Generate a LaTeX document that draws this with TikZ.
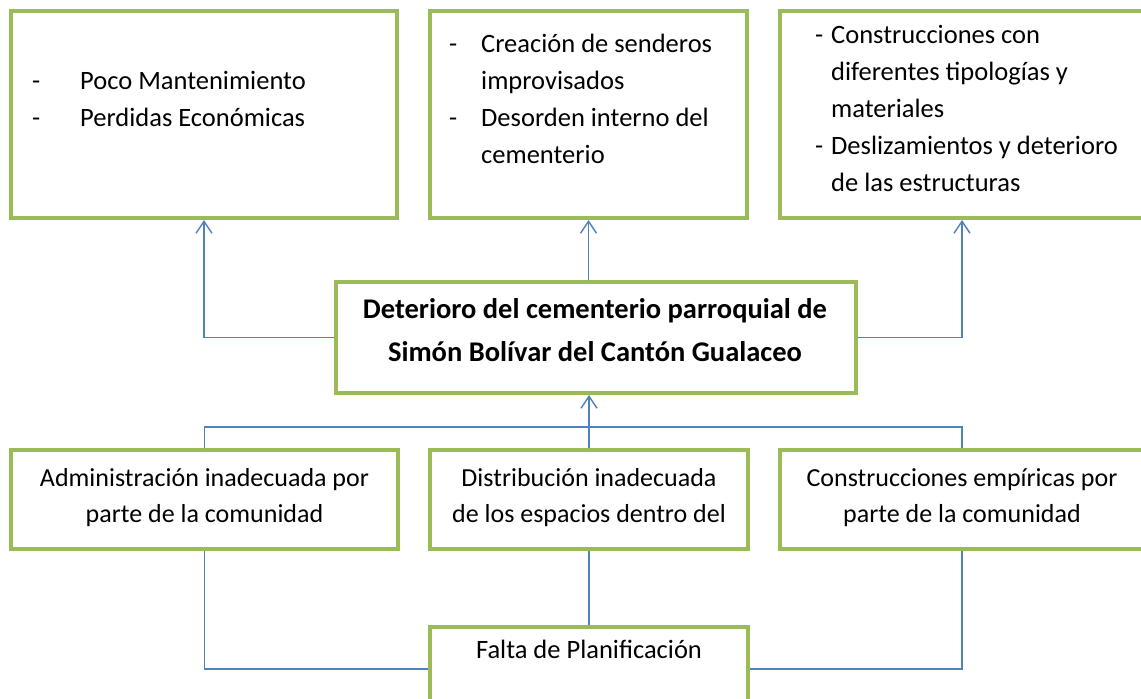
\documentclass[tikz,border=0pt]{standalone}
\usepackage{fontspec}
\setmainfont{Carlito}
\usepackage{tikz}
\usetikzlibrary{arrows.meta}
\definecolor{ogreen}{RGB}{155,187,89}
\definecolor{oblue}{RGB}{79,129,189}

\begin{document}
\begin{tikzpicture}[x=1pt, y=-1pt,
    caja/.style={draw=ogreen, line width=4pt, fill=white, inner sep=0pt},
    texto/.style={inner sep=0pt, font=\fontsize{26.5}{37}\selectfont},
    enlace/.style={draw=oblue, line width=1.4pt},
    flecha/.style={enlace, -{Straight Barb[length=12pt,width=16pt]}}]
        \useasboundingbox (0,0) rectangle (1141,699);
        \clip (0,0) rectangle (1141,699);

        % efectos
        \node[caja, minimum width=386pt, minimum height=207pt] (efecto1) at (204,114.5) {};
        \node[caja, minimum width=317pt, minimum height=207pt] (efecto2) at (588.5,114.5) {};
        \node[caja, minimum width=364pt, minimum height=207pt] (efecto3) at (962,114.5) {};
        % problema
        \node[caja, minimum width=520pt, minimum height=111pt] (problema) at (596,337.5) {};
        % causas
        \node[caja, minimum width=387pt, minimum height=99pt] (causa1) at (204.5,499.5) {};
        \node[caja, minimum width=318pt, minimum height=99pt] (causa2) at (589,499.5) {};
        \node[caja, minimum width=365pt, minimum height=99pt] (causa3) at (962,499.5) {};
        \node[caja, minimum width=318pt, minimum height=84pt] (falta) at (589,669) {};

        \node[texto, anchor=base west] (efecto1txt) at (32,89) {
            \begin{tabular}[t]{@{}p{48pt}@{}l@{}}
                - & Poco Mantenimiento\\
                - & Perdidas Económicas
            \end{tabular}
        };
        \node[texto, anchor=base west] (efecto2txt) at (449,52) {
            \begin{tabular}[t]{@{}p{32pt}@{}l@{}}
                - & Creación de senderos\\
                  & improvisados\\
                - & Desorden interno del\\
                  & cementerio
            \end{tabular}
        };
        \node[texto, anchor=base west] (efecto3txt) at (815,43) {
            \begin{tabular}[t]{@{}p{16pt}@{}l@{}}
                - & Construcciones con\\
                  & diferentes tipologías y\\
                  & materiales\\
                - & Deslizamientos y deterioro\\
                  & de las estructuras
            \end{tabular}
        };
        \node[texto, anchor=base, font=\fontsize{28.5}{43}\selectfont\bfseries] (problematxt) at (595,318) {
            \begin{tabular}[t]{@{}c@{}}
                Deterioro del cementerio parroquial de\\
                Simón Bolívar del Cantón Gualaceo
            \end{tabular}
        };
        \node[texto, anchor=base, font=\fontsize{26}{36}\selectfont] (causa1txt) at (204.5,486) {
            \begin{tabular}[t]{@{}c@{}}
                Administración inadecuada por\\
                parte de la comunidad
            \end{tabular}
        };
        \node[texto, anchor=base, font=\fontsize{26}{36}\selectfont] (causa2txt) at (589,486) {
            \begin{tabular}[t]{@{}c@{}}
                Distribución inadecuada\\
                de los espacios dentro del
            \end{tabular}
        };
        \node[texto, anchor=base, font=\fontsize{26}{36}\selectfont] (causa3txt) at (962,486) {
            \begin{tabular}[t]{@{}c@{}}
                Construcciones empíricas por\\
                parte de la comunidad
            \end{tabular}
        };
        \node[texto, anchor=base] (faltatxt) at (589,658) {Falta de Planificación};

        % conectores
        \coordinate (bus) at (588,427);
        \draw[flecha] (problema.west) -| (efecto1.south);
        \draw[flecha] (efecto2.south |- problema.north) -- (efecto2.south);
        \draw[flecha] (problema.east) -| (efecto3.south);
        \draw[enlace] (causa1.north) |- (bus) -| (causa3.north);
        \draw[flecha] (causa2.north) -- (causa2.north |- problema.south);
        \draw[enlace] (causa1.south) |- (falta.west);
        \draw[enlace] (causa2.south) -- (falta.north);
        \draw[enlace] (causa3.south) |- (falta.east);
    \end{tikzpicture}
\end{document}
